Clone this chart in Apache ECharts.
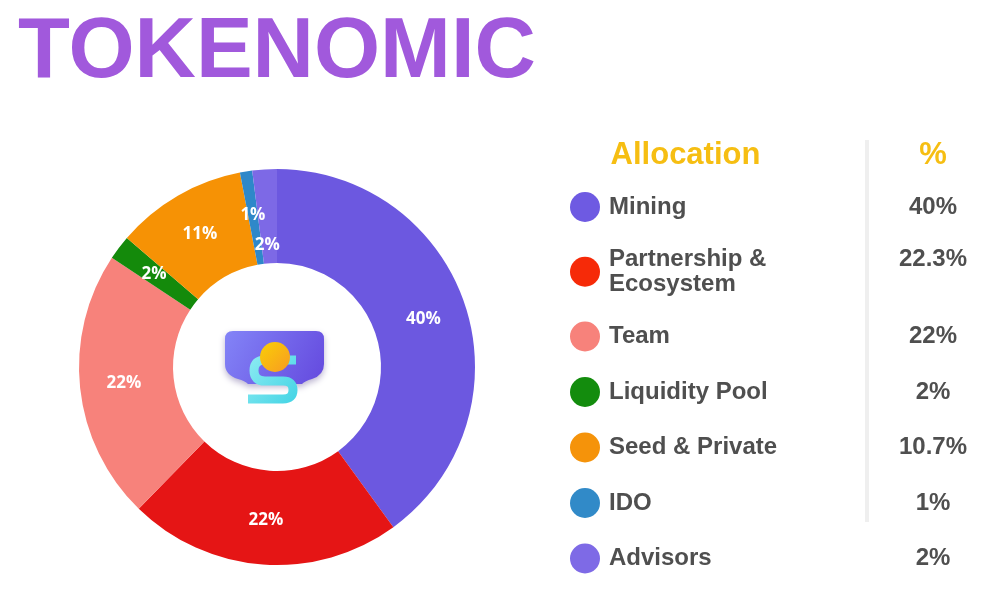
<!DOCTYPE html>
<html><head><meta charset="utf-8">
<script src="https://cdn.jsdelivr.net/npm/echarts@6/dist/echarts.min.js"></script>
<style>html,body{margin:0;padding:0;background:#fff}#c{width:999px;height:600px}</style>
</head><body><div id="c"></div>
<script>
// ---- data ----
const chartTitle = 'TOKENOMIC';
const headerLabels = ['Allocation', '%'];
const categories = ['Mining', 'Partnership &\nEcosystem', 'Team', 'Liquidity Pool', 'Seed & Private', 'IDO', 'Advisors'];
const values = [40, 22.3, 22, 2, 10.7, 1, 2];
const sliceColors = ['#6C58E0', '#E51515', '#F7827B', '#148A0B', '#F69205', '#2E88C9', '#7D69E6'];
const legendColors = ['#6E5AE2', '#F62A08', '#F7827B', '#138C0D', '#F5930A', '#318AC8', '#7E6AE6'];

const FONT = '"Liberation Sans", Arial, sans-serif';
const chart = echarts.init(document.getElementById('c'), null, {renderer: 'canvas'});

// logo shapes
echarts.graphic.registerShape('logoBody', echarts.graphic.extendPath(
  'M233 331 H316 Q324 331 324 339 V364 Q324 375 312 379 Q305 381 302 384 H248 Q245 381 238 379 Q225 375 225 364 V339 Q225 331 233 331 Z', {}));
echarts.graphic.registerShape('logoS', echarts.graphic.extendPath(
  'M296 360 L265 360 Q254 360 254 370.5 Q254 381 265 381 L283 381 Q293 381 293 390 Q293 399 283 399 L248 399', {}));

const pieData = categories.map((n, i) => ({name: n, value: values[i], itemStyle: {color: sliceColors[i]}}));
const legendData = categories.map((n, i) => ({name: n, itemStyle: {color: legendColors[i]}}));

const option = {
  animation: false,
  backgroundColor: '#ffffff',
  title: {
    text: chartTitle, left: 18, top: 11, padding: 0,
    textStyle: {fontSize: 85, fontWeight: 'bold', fontFamily: FONT, color: '#A159DC'}
  },
  legend: {
    orient: 'vertical', left: 570, top: 192, padding: 0,
    itemWidth: 30, itemHeight: 30, itemGap: 25.5, icon: 'circle',
    selectedMode: false,
    data: legendData,
    formatter: function (name) {
      const i = categories.indexOf(name);
      const lines = name.split('\n');
      const s = lines.length > 1 ? '2' : '1';
      return lines.map((l, k) => '{n' + s + '|' + l + '}' + (k === 0 ? '{v' + s + '|' + values[i] + '%}' : '')).join('\n');
    },
    textStyle: {
      fontFamily: FONT, fontWeight: 'bold', fontSize: 24, color: '#4F4F4F', padding: [0, 0, 0, 4],
      rich: {
        n1: {fontFamily: FONT, fontWeight: 'bold', fontSize: 24, color: '#4F4F4F', width: 279, lineHeight: 30},
        v1: {fontFamily: FONT, fontWeight: 'bold', fontSize: 24, color: '#4F4F4F', width: 90, align: 'center', lineHeight: 30},
        n2: {fontFamily: FONT, fontWeight: 'bold', fontSize: 24, color: '#4F4F4F', width: 279, lineHeight: 24.5},
        v2: {fontFamily: FONT, fontWeight: 'bold', fontSize: 24, color: '#4F4F4F', width: 90, align: 'center', lineHeight: 24.5}
      }
    }
  },
  series: [{
    type: 'pie',
    center: [277, 367],
    radius: [104, 198],
    startAngle: 90,
    clockwise: true,
    silent: true,
    data: pieData,
    label: {
      show: true, position: 'inside',
      formatter: p => Math.round(p.value) + '%',
      color: '#ffffff', fontWeight: 'bold', fontSize: 17, fontFamily: '"Open Sans", sans-serif'
    },
    labelLine: {show: false},
    labelLayout: function (params) {
      return params.dataIndex === categories.length - 1 ? {dy: 32} : {};
    },
    emphasis: {disabled: true}
  }],
  graphic: [
    {type: 'text', x: 685.5, y: 155, style: {text: headerLabels[0], fill: '#F6BE12', font: 'bold 31px ' + FONT, textAlign: 'center', textVerticalAlign: 'middle'}},
    {type: 'text', x: 933, y: 155, style: {text: headerLabels[1], fill: '#F6BE12', font: 'bold 31px ' + FONT, textAlign: 'center', textVerticalAlign: 'middle'}},
    {type: 'line', shape: {x1: 867, y1: 140, x2: 867, y2: 522}, style: {stroke: '#EFEFEF', lineWidth: 4}},
    // center logo
    {type: 'logoBody',
      style: {fill: new echarts.graphic.LinearGradient(0, 0, 1, 1, [{offset: 0, color: '#8384F7'}, {offset: 1, color: '#6449DE'}]),
        shadowBlur: 6, shadowColor: 'rgba(60,40,120,0.35)', shadowOffsetY: 3}},
    {type: 'logoS',
      style: {fill: null, stroke: new echarts.graphic.LinearGradient(0, 0, 1, 1, [{offset: 0, color: '#92ECF3'}, {offset: 1, color: '#3FD3E4'}]), lineWidth: 9, lineCap: 'butt', lineJoin: 'round'}},
    {type: 'circle', shape: {cx: 275, cy: 357, r: 15},
      style: {fill: new echarts.graphic.LinearGradient(0, 0, 1, 1, [{offset: 0, color: '#F9CF06'}, {offset: 1, color: '#F89B22'}])}}
  ]
};
chart.setOption(option);
</script>
</body></html>
